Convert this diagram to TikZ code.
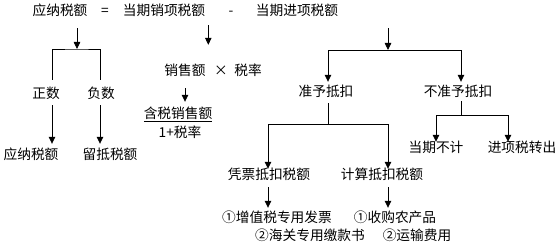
\documentclass[tikz,border=0pt]{standalone}
\usepackage{fontspec}
\setmainfont{Noto Sans CJK SC}
\usetikzlibrary{arrows.meta, positioning}

\begin{document}
\begin{tikzpicture}[
    x=1pt,
    y=-1pt,
    font=\fontsize{13.7pt}{16pt}\selectfont,
    lbl/.style={inner sep=0pt, text height=0.88em, text depth=0.12em},
    link/.style={draw=black, line width=0.8pt},
    arrow/.style={link, -{Triangle[length=7pt, width=6.5pt]}}
  ]
  \useasboundingbox (0,0) rectangle (559,248);

  % Formula line
  \node[lbl] (yingna)    at ( 60,12) {应纳税额};
  \node[lbl] (eqsign)    at (105,12) {=};
  \node[lbl] (xiaoxiang) at (164,12) {当期销项税额};
  \node[lbl] (minus)     at (231,12) {-};
  \node[lbl] (jinxiang)  at (297,12) {当期进项税额};

  % Left branch
  \node[lbl] (zhengshu) at ( 46, 95) {正数};
  \node[lbl] (fushu)    at (101, 95) {负数};
  \node[lbl] (yingna2)  at ( 31,156) {应纳税额};
  \node[lbl] (liudi)    at (110,156) {留抵税额};

  % Middle branch
  \node[lbl] (xiaoshoue) at (185, 72) {销售额};
  \node[lbl] (times)     at (221, 72) {×};
  \node[lbl] (shuilv)    at (248, 72) {税率};
  \node[lbl] (hanshui)   at (178,115) {\underline{含税销售额}};
  \node[lbl] (yijia)     at (180,134) {1+税率};

  % Right branch
  \node[lbl] (zhunyu)   at (326, 93) {准予抵扣};
  \node[lbl] (buzhun)   at (458, 93) {不准予抵扣};
  \node[lbl] (dangqi)   at (436,149) {当期不计};
  \node[lbl] (zhuanchu) at (522,149) {进项税转出};
  \node[lbl] (pingpiao) at (269,176) {凭票抵扣税额};
  \node[lbl] (jisuan)   at (382,176) {计算抵扣税额};
  \node[lbl] (zengzhi)  at (277,219) {①增值税专用发票};
  \node[lbl] (haiguan)  at (310,237) {②海关专用缴款书};
  \node[lbl] (shougou)  at (395,219) {①收购农产品};
  \node[lbl] (yunshu)   at (417,237) {②运输费用};

  % Left connectors
  \coordinate (lsplit) at (77,49);
  \draw[arrow, shorten <=11pt] (yingna.south -| lsplit) -- (lsplit);
  \draw[link, shorten <=10pt, shorten >=10pt] ([xshift=6pt]zhengshu.north) |- (lsplit) -| ([xshift=-1pt]fushu.north);
  \draw[arrow, shorten <=5pt, shorten >=7pt] ([xshift=6pt]zhengshu.south) -- ([xshift=6pt]zhengshu.south |- yingna2.north);
  \draw[arrow, shorten <=5pt, shorten >=7pt] ([xshift=-1pt]fushu.south) -- ([xshift=-1pt]fushu.south |- liudi.north);

  % Middle connectors
  \draw[arrow, shorten <=8pt, shorten >=22pt] ([xshift=3pt]xiaoxiang.south east) -- ([xshift=3pt]xiaoxiang.south east |- xiaoshoue.north);
  \draw[arrow, shorten <=11pt, shorten >=8pt] (xiaoshoue.south) -- (xiaoshoue.south |- hanshui.north);

  % Right connectors
  \coordinate (rsplit) at (388,50);
  \draw[arrow, shorten <=11pt] (jinxiang.south -| rsplit) -- (rsplit);
  \draw[arrow, shorten >=6pt] (rsplit) -| ([xshift=2pt]zhunyu.north);
  \draw[arrow, shorten >=6pt] (rsplit) -| ([xshift=3pt]buzhun.north);

  \coordinate (zsplit) at (328,124);
  \draw[link, shorten <=5pt] ([xshift=2pt]zhunyu.south) -- (zsplit);
  \draw[arrow, shorten >=2pt] (zsplit) -| ([xshift=-1pt]pingpiao.north);
  \draw[arrow, shorten >=2pt] (zsplit) -| ([xshift=6pt]jisuan.north);

  \coordinate (bsplit) at (461,115);
  \draw[link, shorten <=3pt] ([xshift=3pt]buzhun.south) -- (bsplit);
  \draw[arrow, shorten >=2pt] (bsplit) -| (dangqi.north);
  \draw[arrow, shorten >=2pt] (bsplit) -| ([xshift=-14pt]zhuanchu.north);

  % Bottom connectors
  \draw[arrow, shorten <=6pt, shorten >=6pt] ([xshift=-1pt]pingpiao.south) -- ([xshift=-1pt]pingpiao.south |- zengzhi.north);
  \draw[arrow, shorten <=6pt, shorten >=6pt] ([xshift=6pt]jisuan.south) -- ([xshift=6pt]jisuan.south |- shougou.north);
\end{tikzpicture}
\end{document}
